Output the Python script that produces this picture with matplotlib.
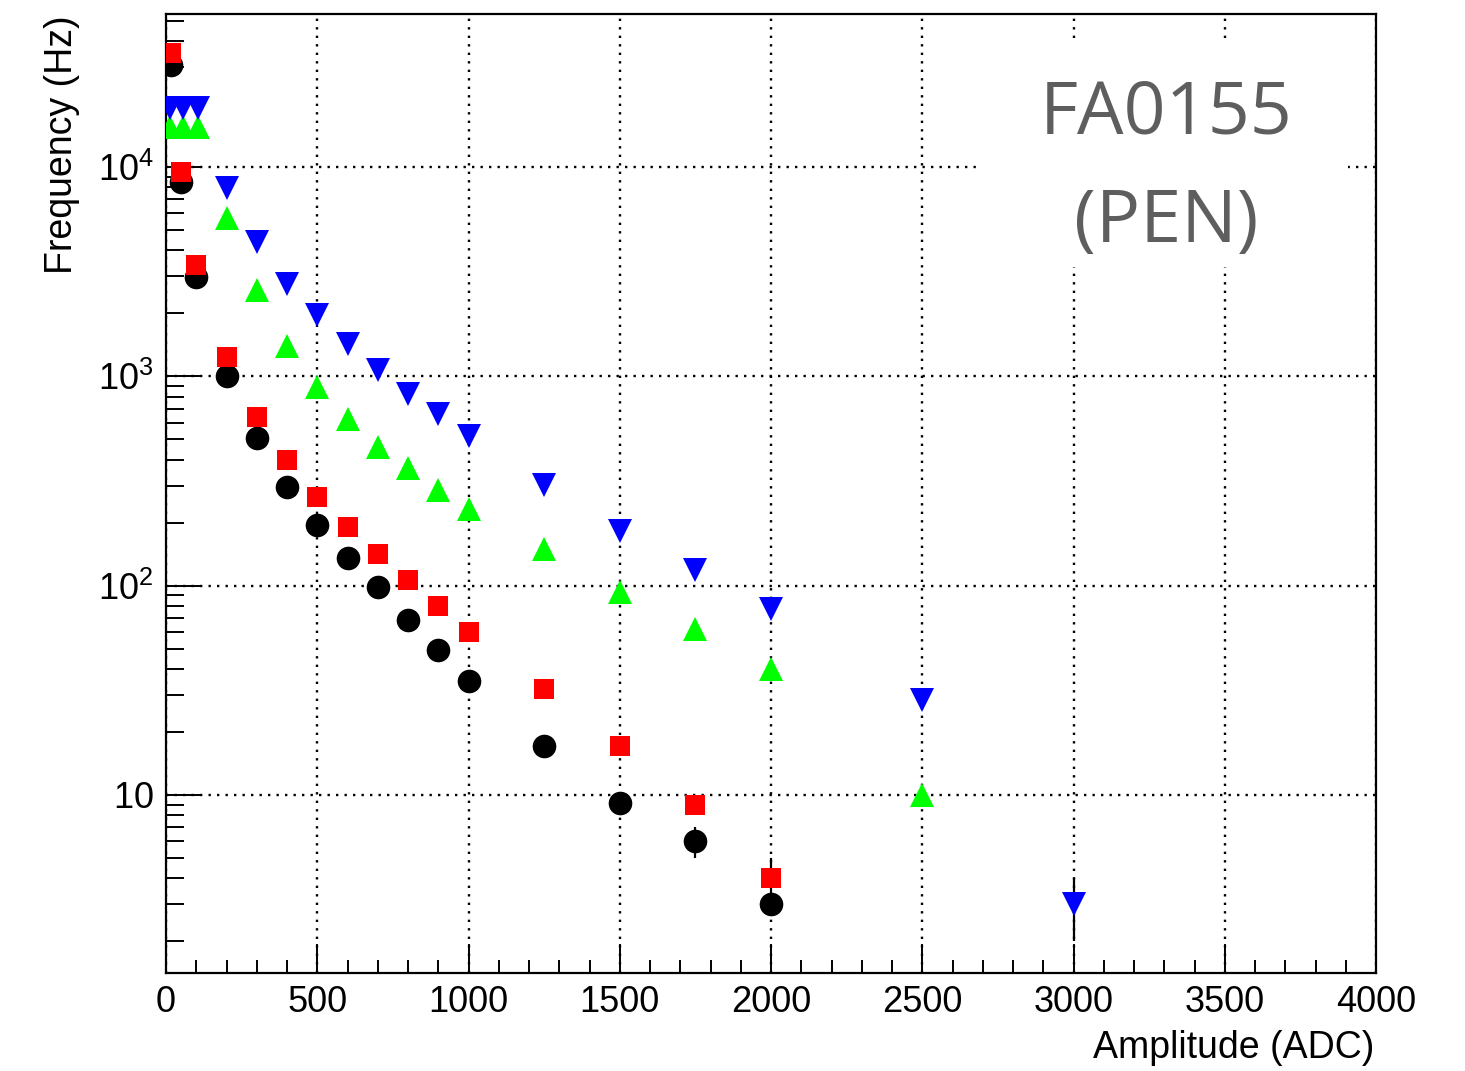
import matplotlib
matplotlib.use("Agg")
import matplotlib.pyplot as plt
from matplotlib.ticker import FixedLocator, FixedFormatter, LogLocator, NullFormatter, MultipleLocator
from matplotlib.patches import Rectangle

# ---------------- data ----------------
x_black = [15, 50, 100, 200, 300, 400, 500, 600, 700, 800, 900, 1000, 1250, 1500, 1750, 2000]
y_black = [30700, 8480, 2980, 1000, 507, 296, 195, 135, 98.5, 68.5, 49.2, 35, 17.1, 9.15, 6.0, 3.0]
e_black = [0, 0, 0, 0, 0, 0, 0, 0, 0, 0, 0, 0, 0, 0, 1.0, 0]

x_red = [18, 50, 100, 200, 300, 400, 500, 600, 700, 800, 900, 1000, 1250, 1500, 1750, 2000]
y_red = [35000, 9460, 3400, 1233, 640, 398, 265, 190, 141, 106, 80, 60, 32, 17.1, 9.0, 4.0]
e_red = [0, 0, 0, 0, 0, 0, 0, 0, 0, 0, 0, 0, 0, 0, 1.0, 1.0]

x_blue = [13, 57, 106, 200, 300, 400, 500, 600, 700, 800, 900, 1000, 1250, 1500, 1750, 2000, 2500, 3000]
y_blue = [19100, 19100, 19100, 7940, 4385, 2775, 1963, 1427, 1071, 822, 660, 518, 302, 182, 119, 77, 28.4, 3.0]
e_blue = [0, 0, 0, 0, 0, 0, 0, 0, 0, 0, 0, 0, 0, 0, 0, 0, 0, 1.0]

x_green = [13, 57, 106, 200, 300, 400, 500, 600, 700, 800, 900, 1000, 1250, 1500, 1750, 2000, 2500]
y_green = [15600, 15600, 15600, 5690, 2585, 1396, 889, 625, 460, 365, 286, 232, 150, 93, 62, 40, 10]
e_green = [0] * 17

x_ticks = [0, 500, 1000, 1500, 2000, 2500, 3000, 3500, 4000]
x_ticklabels = ["0", "500", "1000", "1500", "2000", "2500", "3000", "3500", "4000"]
y_ticks = [10, 100, 1000, 10000]
y_ticklabels = [r"$\mathregular{10}$", r"$\mathregular{10^{2}}$", r"$\mathregular{10^{3}}$", r"$\mathregular{10^{4}}$"]

# ---------------- style ----------------
plt.rcParams['font.family'] = ['Liberation Sans', 'DejaVu Sans']
plt.rcParams['mathtext.fontset'] = 'custom'
plt.rcParams['mathtext.rm'] = 'Liberation Sans'

W, H = 1465, 1071
fig = plt.figure(figsize=(W / 100, H / 100), dpi=100)
L, R, T, B = 166, 1376, 14, 973
ax = fig.add_axes([L / W, 1 - B / H, (R - L) / W, (B - T) / H])

ax.set_xlim(0, 4000)
ax.set_yscale('log')
ax.set_ylim(1.411, 53800)

ax.set_axisbelow(True)
ax.xaxis.set_major_locator(FixedLocator(x_ticks))
ax.xaxis.set_major_formatter(FixedFormatter(x_ticklabels))
ax.xaxis.set_minor_locator(MultipleLocator(100))
ax.yaxis.set_major_locator(FixedLocator(y_ticks))
ax.yaxis.set_major_formatter(FixedFormatter(y_ticklabels))
ax.yaxis.set_minor_locator(LogLocator(base=10, subs=range(2, 10), numticks=20))
ax.yaxis.set_minor_formatter(NullFormatter())

ax.tick_params(axis='both', which='both', direction='in', colors='black', width=1.4)
ax.tick_params(axis='x', which='major', length=21, labelsize=26, pad=9)
ax.tick_params(axis='x', which='minor', length=9.5)
ax.tick_params(axis='y', which='major', length=25, labelsize=26, pad=9)
ax.tick_params(axis='y', which='minor', length=13)
for s in ax.spines.values():
    s.set_linewidth(1.6)

ax.grid(True, which='major', color='black', linestyle=(0, (1, 2.6)), linewidth=1.7)

# white box behind the label
ax.add_patch(Rectangle(((978 - L) / (R - L), (B - 267) / (B - T)),
                       (1348 - 978) / (R - L), (267 - 40) / (B - T),
                       transform=ax.transAxes, facecolor='white', edgecolor='none', zorder=1.5))

ekw = dict(ecolor='black', elinewidth=1.6, capsize=3.6, capthick=1.6, linestyle='none', zorder=3)
ax.errorbar(x_green, y_green, yerr=e_green, marker='^', markersize=17, color='#00ff00', markeredgewidth=0, **ekw)
ax.errorbar(x_blue, y_blue, yerr=e_blue, marker='v', markersize=17, color='#0000ff', markeredgewidth=0, **ekw)
ax.errorbar(x_black, y_black, yerr=e_black, marker='o', markersize=17, color='black', markeredgewidth=0, **ekw)
ax.errorbar(x_red, y_red, yerr=e_red, marker='s', markersize=14.5, color='#ff0000', markeredgewidth=0, **ekw)

ax.text((1166 - L) / (R - L), (B - 114) / (B - T), "FA0155", transform=ax.transAxes,
        ha='center', va='center', fontsize=53, color='#5e5e5e', family=['Open Sans', 'DejaVu Sans'],
        fontweight='normal', zorder=4)
ax.text((1166 - L) / (R - L), (B - 223) / (B - T), "(PEN)", transform=ax.transAxes,
        ha='center', va='center', fontsize=53, color='#5e5e5e', family=['Open Sans', 'DejaVu Sans'],
        fontweight='normal', zorder=4)

fig.text(62 / W, 1 - 15 / H, "Frequency (Hz)", rotation=90, ha='center', va='top', fontsize=27)
fig.text(1374 / W, 1 - 1048 / H, "Amplitude (ADC)", ha='right', va='center', fontsize=27)

fig.savefig("out.png", dpi=100)
